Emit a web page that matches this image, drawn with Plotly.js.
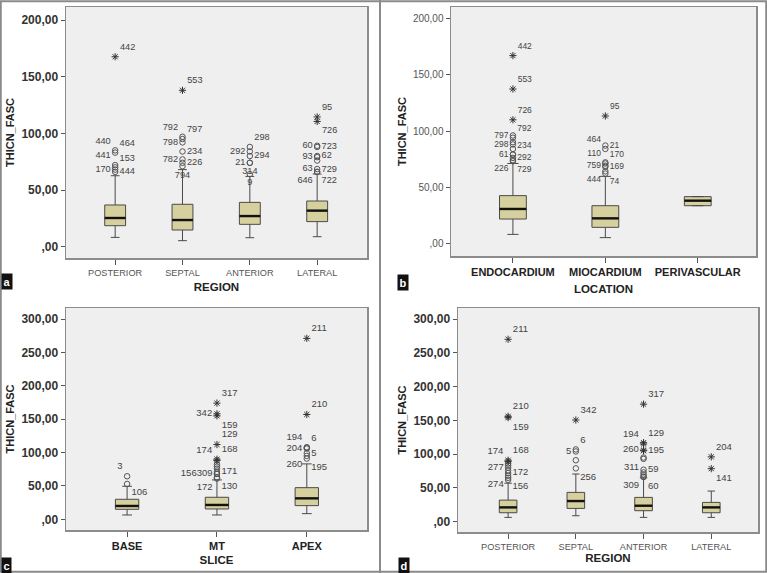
<!DOCTYPE html>
<html><head><meta charset="utf-8">
<script src="https://cdn.plot.ly/plotly-3.0.1.min.js"></script>
<style>html,body{margin:0;padding:0;background:#fff}#chart{width:767px;height:573px}</style>
</head><body><div id="chart"></div>
<script>
// ================= DATA =================
const regionCats = ['POSTERIOR', 'SEPTAL', 'ANTERIOR', 'LATERAL'];
const locationCats = ['ENDOCARDIUM', 'MIOCARDIUM', 'PERIVASCULAR'];
const sliceCats = ['BASE', 'MT', 'APEX'];
const yTickVals200 = [0, 50, 100, 150, 200];
const yTickText200 = [',00', '50,00', '100,00', '150,00', '200,00'];
const yTickVals300 = [0, 50, 100, 150, 200, 250, 300];
const yTickText300 = [',00', '50,00', '100,00', '150,00', '200,00', '250,00', '300,00'];

// Panel a: THICN_FASC by REGION
const aQ1 = [18.5, 14.7, 19.7, 22.1];
const aMedian = [25.3, 23.5, 27.0, 31.8];
const aQ3 = [36.8, 37.4, 39.1, 40.3];
const aLowerFence = [8.2, 5.3, 7.9, 8.8];
const aUpperFence = [62.6, 68.0, 62.0, 64.1];
const aOutCat = [0, 0, 0, 0, 0, 0, 1, 1, 1, 1, 1, 1, 1, 2, 2, 2, 2, 2, 2, 3, 3, 3, 3, 3, 3, 3, 3];
const aOutVal = [85, 83, 72, 70, 68, 66, 97, 95, 92, 84, 77, 74, 71, 88, 84, 80, 74, 74, 64, 89, 88, 80, 79, 76, 68.5, 66, 66];
const aOutCase = ['440', '464', '441', '153', '170', '444', '792', '797', '798', '234', '782', '226', '794', '298', '292', '294', '21', '314', '9', '60', '723', '62', '93', '729', '63', '722', '646'];
const aExtCat = [0, 1, 3, 3];
const aExtVal = [167.6, 138.0, 114.5, 110.5];
const aExtCase = ['442', '553', '95', '726'];

// Panel b: THICN_FASC by LOCATION
const bQ1 = [21.4, 14.0, 33.3];
const bMedian = [30.4, 22.0, 37.8];
const bQ3 = [42.3, 33.3, 41.4];
const bLowerFence = [7.7, 4.8, 33.3];
const bUpperFence = [71.0, 59.5, 41.4];
const bOutCat = [0, 0, 0, 0, 0, 0, 0, 0, 0, 0, 1, 1, 1, 1, 1, 1, 1, 1];
const bOutVal = [96, 94, 90, 88, 84, 79, 79, 76, 74, 73, 87, 84, 72, 71, 69, 68, 64, 62];
const bOutCase = ['797', '792', '', '298', '', '234', '61', '292', '226', '729', '21', '464', '110', '170', '759', '169', '444', '74'];
const bExtCat = [0, 0, 0, 1];
const bExtVal = [167.3, 137.5, 110.0, 113.4];
const bExtCase = ['442', '553', '726', '95'];

// Panel c: THICN_FASC by SLICE
const cQ1 = [15.0, 15.5, 20.5];
const cMedian = [20.0, 21.5, 31.4];
const cQ3 = [30.0, 33.0, 47.4];
const cLowerFence = [6.5, 6.5, 8.5];
const cUpperFence = [49.5, 59.0, 83.0];
const cOutCat = [0, 0, 1, 1, 1, 1, 1, 1, 1, 1, 2, 2, 2, 2, 2, 2];
const cOutVal = [64.5, 53, 82, 79, 76, 71, 68, 68, 63, 61, 108, 107, 106, 99, 95, 91];
const cOutCase = ['3', '106', '', '', '', '171', '309', '156', '130', '172', '194', '6', '204', '5', '260', '195'];
const cExtCat = [1, 1, 1, 1, 1, 1, 2, 2];
const cExtVal = [174, 158, 155, 112, 90, 88, 271, 157];
const cExtCase = ['317', '342', '159', '129', '168', '174', '211', '210'];

// Panel d: THICN_FASC by REGION
const dQ1 = [13.3, 19.7, 16.3, 13.3];
const dMedian = [21.2, 30.6, 23.7, 21.2];
const dQ3 = [32.0, 43.4, 36.0, 28.6];
const dLowerFence = [6.4, 8.9, 6.4, 6.4];
const dUpperFence = [57.0, 70.6, 65.0, 45.4];
const dOutCat = [0, 0, 0, 0, 0, 0, 0, 0, 1, 1, 1, 1, 2, 2, 2, 2, 2, 2, 2];
const dOutVal = [86, 83, 80, 76, 72, 68, 65, 62, 107, 104, 91, 79, 95, 93, 77, 73, 70, 67, 66];
const dOutCase = ['', '', '277', '', '172', '274', '156', '', '6', '5', '', '256', '', '311', '59', '', '', '309', '60'];
const dExtCat = [0, 0, 0, 0, 0, 1, 2, 2, 2, 2, 2, 3, 3];
const dExtVal = [270, 156, 154, 91, 89, 150.5, 174, 117, 115, 106, 105, 96, 78.5];
const dExtCase = ['211', '210', '159', '168', '174', '342', '317', '129', '194', '260', '195', '204', '141'];

// ================= STYLE =================
const TL = 'top left', TR = 'top right', ML = 'middle left', MR = 'middle right',
      BL = 'bottom left', BR = 'bottom right', BC = 'bottom center';
const aOutPos = [TL, TR, TL, TR, ML, MR, TL, TR, ML, MR, ML, MR, BC, TR, ML, MR, ML, BC, BC, ML, MR, MR, ML, BR, ML, BR, BL];
const aExtPos = [TR, TR, TR, BR];
const bOutPos = [ML, TR, ML, ML, MR, TR, ML, MR, BL, BR, MR, TL, TL, TR, ML, MR, BL, BR];
const bExtPos = [TR, TR, TR, TR];
const cOutPos = [TL, BR, MR, MR, MR, MR, ML, ML, BR, BL, TL, TR, ML, MR, BL, BR];
const cExtPos = [TR, ML, BR, TR, TR, TL, TR, TR];
const dOutPos = [ML, ML, ML, ML, MR, BL, BR, ML, TR, ML, MR, BR, ML, BL, MR, MR, MR, BL, BR];
const dExtPos = [TR, TR, BR, TR, TL, TR, TR, TR, TL, ML, MR, TR, BR];
// labels that SPSS prints run together next to a neighbour are padded on their right side
const padRight = (labels, which) => labels.map(t => which.includes(t) ? t + '\u00a0\u00a0\u00a0\u00a0\u00a0\u00a0' : t);

const FONT = 'Liberation Sans, Arial, sans-serif';
const BOX_FILL = '#d6d09e';
const BOX_LINE = '#4a4a4a';
const MARK = '#555555';

function panelTraces(n, q1, med, q3, lo, hi, oc, ov, ocase, opos, ec, ev, ecase, epos, boxW, labelSize) {
  const xs = Array.from({length: n}, (_, i) => i);
  return function (ax) {
    const xa = 'x' + ax, ya = 'y' + ax;
    const medX = [], medY = [];
    med.forEach((m, i) => { medX.push(i - boxW / 2, i + boxW / 2, null); medY.push(m, m, null); });
    return [
      {type: 'box', x: xs, q1: q1, median: med, q3: q3, lowerfence: lo, upperfence: hi,
       boxpoints: false, width: boxW, whiskerwidth: 0.42, fillcolor: BOX_FILL,
       line: {color: BOX_LINE, width: 1}, xaxis: xa, yaxis: ya, hoverinfo: 'skip', showlegend: false},
      {type: 'scatter', mode: 'lines', x: medX, y: medY, line: {color: '#111', width: 2.4},
       xaxis: xa, yaxis: ya, hoverinfo: 'skip', showlegend: false},
      {type: 'scatter', mode: 'markers+text', x: oc, y: ov, text: ocase, textposition: opos,
       cliponaxis: false, marker: {symbol: 'circle-open', size: 5.5, color: MARK, line: {width: 1, color: MARK}},
       textfont: {family: FONT, size: labelSize, color: '#444'},
       xaxis: xa, yaxis: ya, hoverinfo: 'skip', showlegend: false},
      {type: 'scatter', mode: 'markers+text', x: ec, y: ev, text: ecase, textposition: epos,
       cliponaxis: false, marker: {symbol: 'asterisk-open', size: 6, color: '#333', line: {width: 1, color: '#333'}},
       textfont: {family: FONT, size: labelSize, color: '#444'},
       xaxis: xa, yaxis: ya, hoverinfo: 'skip', showlegend: false}
    ];
  };
}

const traces = [].concat(
  panelTraces(4, aQ1, aMedian, aQ3, aLowerFence, aUpperFence, aOutCat, aOutVal, aOutCase, aOutPos, aExtCat, aExtVal, aExtCase, aExtPos, 0.31, 9.2)(''),
  panelTraces(3, bQ1, bMedian, bQ3, bLowerFence, bUpperFence, bOutCat, bOutVal, bOutCase, bOutPos, bExtCat, bExtVal, bExtCase, bExtPos, 0.29, 8.5)('2'),
  panelTraces(3, cQ1, cMedian, cQ3, cLowerFence, cUpperFence, cOutCat, cOutVal, padRight(cOutCase, ['156']), cOutPos, cExtCat, cExtVal, cExtCase, cExtPos, 0.26, 9.5)('3'),
  panelTraces(4, dQ1, dMedian, dQ3, dLowerFence, dUpperFence, dOutCat, dOutVal, dOutCase, dOutPos, dExtCat, dExtVal, dExtCase, dExtPos, 0.26, 9.5)('4')
);

const W = 767, H = 573;
function xAxis(cats, range, domainPx, tickfont, title, standoff, anchor) {
  return {
    domain: [domainPx[0] / W, domainPx[1] / W], range: range, anchor: anchor,
    tickmode: 'array', tickvals: cats.map((_, i) => i), ticktext: cats,
    ticks: 'outside', ticklen: 5, tickwidth: 1, tickcolor: '#555',
    showline: true, mirror: true, linecolor: '#8c8c8c', linewidth: 1.5,
    showgrid: false, zeroline: false, fixedrange: true, tickfont: tickfont,
    title: {text: title, font: {family: FONT, size: 11.5, weight: 'bold', color: '#222'}, standoff: standoff}
  };
}
function yAxis(vals, text, range, domainPx, tickfont, standoff, anchor) {
  return {
    domain: [1 - domainPx[1] / H, 1 - domainPx[0] / H], range: range, anchor: anchor,
    tickmode: 'array', tickvals: vals, ticktext: text,
    ticks: 'outside', ticklen: 4, tickwidth: 1, tickcolor: '#555',
    showline: true, mirror: true, linecolor: '#8c8c8c', linewidth: 1.5,
    showgrid: false, zeroline: false, fixedrange: true, tickfont: tickfont,
    title: {text: 'THICN_FASC', font: {family: FONT, size: 11, weight: 'bold', color: '#222'}, standoff: standoff}
  };
}

const catThin = {family: FONT, size: 9.2, color: '#555'};
const catBold = {family: FONT, size: 11, weight: 'bold', color: '#222'};
const yBold = {family: FONT, size: 12, weight: 'bold', color: '#333'};
const yThin = {family: FONT, size: 10, color: '#555'};

const panelLabel = (t, xpx, ypx) => ({
  text: t, xref: 'paper', yref: 'paper', x: xpx / W, y: 1 - ypx / H, xanchor: 'left', yanchor: 'middle',
  showarrow: false, bgcolor: '#111', borderpad: 1.5, font: {family: FONT, size: 11, weight: 'bold', color: '#fff'}
});

const layout = {
  width: W, height: H, margin: {l: 0, r: 0, t: 0, b: 0},
  paper_bgcolor: '#ffffff', plot_bgcolor: '#efefef', showlegend: false,
  font: {family: FONT, color: '#333'},
  xaxis:  xAxis(regionCats, [-0.73, 3.74], [66, 367], catThin, 'REGION', 6, 'y'),
  yaxis:  yAxis(yTickVals200, yTickText200, [-10, 211.5], [7, 258], yBold, 4, 'x'),
  xaxis2: xAxis(locationCats, [-0.67, 2.63], [451, 756], catBold, 'LOCATION', 8, 'y2'),
  yaxis2: yAxis(yTickVals200, yTickText200, [-11.6, 210.7], [7, 256], yThin, 4, 'x2'),
  xaxis3: xAxis(sliceCats, [-0.68, 2.67], [66, 367], catBold, 'SLICE', 5, 'y3'),
  yaxis3: yAxis(yTickVals300, yTickText300, [-16, 316.5], [308, 530], yBold, 4, 'x3'),
  xaxis4: xAxis(regionCats, [-0.74, 3.69], [458, 758], catThin, 'REGION', 3, 'y4'),
  yaxis4: yAxis(yTickVals300, yTickText300, [-15.2, 316.3], [308, 532], yBold, 4, 'x4'),
  shapes: [
    {type: 'rect', xref: 'paper', yref: 'paper', x0: 0.001, x1: 0.999, y0: 0.002, y1: 0.998, line: {color: '#8a8a8a', width: 2}},
    {type: 'line', xref: 'paper', yref: 'paper', x0: 380 / W, x1: 380 / W, y0: 0, y1: 1, line: {color: '#8a8a8a', width: 2}}
  ],
  annotations: [
    panelLabel('a', 1, 281), panelLabel('b', 397, 282), panelLabel('c', 1, 565), panelLabel('d', 398, 565)
  ]
};

Plotly.newPlot('chart', traces, layout, {displayModeBar: false, staticPlot: true});
</script>
</body></html>
